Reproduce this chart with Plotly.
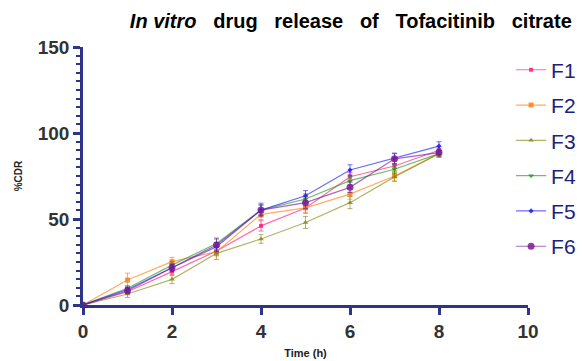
import plotly.graph_objects as go

time_h = [0, 1, 2, 3, 4, 5, 6, 7, 8]
series_names = ["F1", "F2", "F3", "F4", "F5", "F6"]
F1 = [0, 7.7, 19.4, 31.4, 46.0, 56.4, 74.6, 80.8, 90.0]
F2 = [0, 14.5, 25.2, 31.0, 52.7, 56.5, 64.5, 75.0, 88.0]
F3 = [0, 6.4, 14.9, 30.0, 38.4, 48.0, 59.5, 74.5, 88.0]
F4 = [0, 9.7, 23.2, 35.8, 55.2, 61.6, 72.3, 78.9, 88.0]
F5 = [0, 9.0, 21.7, 33.9, 55.2, 63.5, 78.5, 85.3, 92.4]
F6 = [0, 8.3, 21.7, 34.9, 55.2, 59.5, 68.4, 85.0, 88.6]
F1_err = [0, 1.5, 2.0, 2.5, 3.0, 3.0, 2.5, 3.0, 2.0]
F2_err = [0, 4.0, 2.5, 2.5, 3.0, 3.0, 3.0, 3.0, 2.0]
F3_err = [0, 2.0, 2.5, 3.5, 2.5, 3.5, 3.5, 2.5, 2.0]
F4_err = [0, 1.5, 2.0, 2.5, 3.0, 3.0, 2.5, 2.5, 2.0]
F5_err = [0, 1.5, 2.0, 2.5, 3.0, 3.0, 3.0, 3.0, 2.5]
F6_err = [0, 1.5, 2.0, 4.0, 4.0, 3.5, 3.0, 3.0, 2.0]

values = [F1, F2, F3, F4, F5, F6]
errors = [F1_err, F2_err, F3_err, F4_err, F5_err, F6_err]
colors = ["#ff1a7a", "#ff7f0e", "#8a8a1a", "#1f9a1f", "#1a1aff", "#7a1a9a"]
line_colors = ["rgba(255,26,122,0.65)", "rgba(255,127,14,0.65)", "rgba(138,138,26,0.65)",
               "rgba(31,154,31,0.65)", "rgba(26,26,255,0.65)", "rgba(122,26,154,0.65)"]
symbols = ["square", "square", "triangle-up", "triangle-down", "diamond", "circle"]
sizes = [4, 5, 5, 5, 4, 7]

fig = go.Figure()
for name, y, e, c, lc, s, sz in zip(series_names, values, errors, colors, line_colors, symbols, sizes):
    fig.add_trace(go.Scatter(
        x=time_h, y=y, name=name, legendgroup=name, mode="lines+markers",
        line=dict(color=lc, width=1.2),
        marker=dict(color=c, symbol=s, size=sz, opacity=0.85),
        error_y=dict(type="data", array=e, visible=True, color=lc, thickness=1, width=2.5),
    ))

axis_col = "#2e3586"
title_text = ("<i>In vitro</i>&nbsp;&nbsp; drug&nbsp;&nbsp; release&nbsp;&nbsp; of&nbsp;&nbsp; "
              "Tofacitinib&nbsp;&nbsp; citrate")
fig.update_layout(
    width=586, height=361,
    paper_bgcolor="white", plot_bgcolor="white",
    margin=dict(l=75, r=66, t=39, b=64, autoexpand=False),
    title=dict(text=title_text,
               x=0.585, xanchor="center", y=0.965, yanchor="middle",
               font=dict(family="Arial, Liberation Sans", size=20, color="black", weight="bold")),
    font=dict(family="Arial, Liberation Sans"),
    showlegend=True,
    legend=dict(x=0.962, y=0.99, xanchor="left", yanchor="top",
                font=dict(size=21, color="#1a237e"), tracegroupgap=5,
                itemwidth=30, bgcolor="rgba(0,0,0,0)"),
)
fig.update_xaxes(
    range=[0, 10], tickvals=[0, 2, 4, 6, 8, 10], showgrid=False, zeroline=False,
    automargin=False,
    showline=True, linecolor=axis_col, linewidth=2.5,
    ticks="outside", ticklen=7, tickwidth=2.5, tickcolor=axis_col,
    tickfont=dict(size=19, color="#333333", weight="bold"),
    title=dict(text="<b>Time (h)</b>", font=dict(size=11, color="#222222"), standoff=9),
)
fig.update_yaxes(
    range=[0, 150], tickvals=[0, 50, 100, 150], showgrid=False, zeroline=False,
    automargin=False,
    showline=True, linecolor=axis_col, linewidth=2.5,
    ticks="outside", ticklen=7, tickwidth=2.5, tickcolor=axis_col,
    minor=dict(dtick=5, ticks="outside", ticklen=4, tickwidth=2, tickcolor=axis_col, showgrid=False),
    tickfont=dict(size=19, color="#333333", weight="bold"),
    title=dict(text="<b>%CDR</b>", font=dict(size=10, color="#222222"), standoff=14),
)
fig.write_html("out.html")
